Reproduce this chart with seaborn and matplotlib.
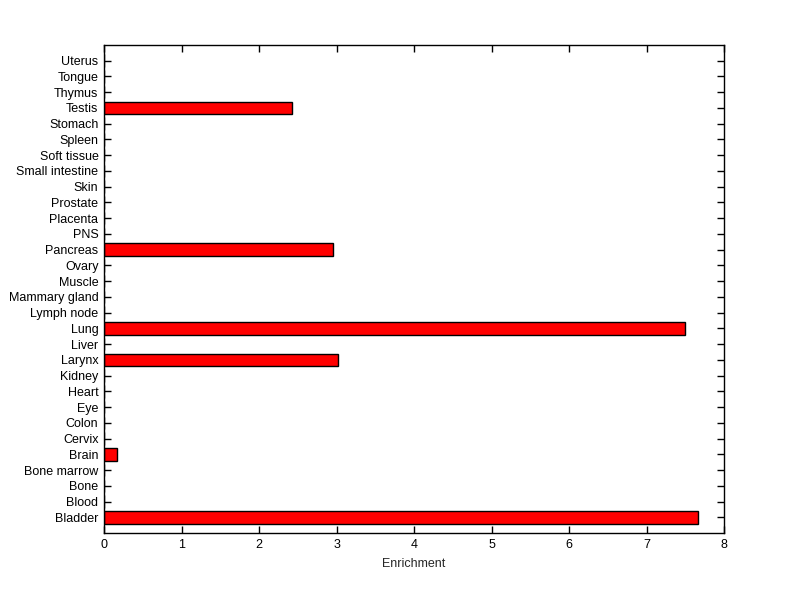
import pandas as pd
import numpy as np
import seaborn as sns
import matplotlib
matplotlib.use('Agg')
import matplotlib.pyplot as plt

# Tissue categories, bottom to top as in the figure
tissues = ['Bladder', 'Blood', 'Bone', 'Bone marrow', 'Brain', 'Cervix', 'Colon',
           'Eye', 'Heart', 'Kidney', 'Larynx', 'Liver', 'Lung', 'Lymph node',
           'Mammary gland', 'Muscle', 'Ovary', 'Pancreas', 'PNS', 'Placenta',
           'Prostate', 'Skin', 'Small intestine', 'Soft tissue', 'Spleen',
           'Stomach', 'Testis', 'Thymus', 'Tongue', 'Uterus']
enrichment = [7.67, 0, 0, 0, 0.17, 0, 0,
              0, 0, 0, 3.02, 0, 7.50, 0,
              0, 0, 0, 2.95, 0, 0,
              0, 0, 0, 0, 0,
              0, 2.43, 0, 0, 0]
xticks = [0, 1, 2, 3, 4, 5, 6, 7, 8]

df = pd.DataFrame({'Tissue': tissues, 'Enrichment': enrichment})

sns.set_style("white")
plt.rcParams['font.family'] = ['Liberation Sans', 'DejaVu Sans']
plt.rcParams['font.size'] = 9

fig = plt.figure(figsize=(8, 5.99), dpi=100)
ax = fig.add_axes([0.13, 0.11, 0.775, 0.815])

# seaborn puts the first category on top, so pass the reversed order
sns.barplot(data=df, x='Enrichment', y='Tissue', order=tissues[::-1],
            color='#ff0000', saturation=1, width=0.8,
            edgecolor='black', linewidth=1, ax=ax)

ax.set_ylim(len(tissues), -1)
ax.set_xlim(0, 8)
ax.set_xticks(xticks)
ax.set_ylabel('')
ax.set_xlabel('Enrichment', fontsize=9, labelpad=5)

for s in ax.spines.values():
    s.set_color('black')
    s.set_linewidth(1)
ax.tick_params(direction='in', length=5, width=1, top=True, right=True,
               left=True, bottom=True, labelsize=9, colors='black', pad=4)

fig.savefig('out.png', dpi=100, facecolor='white')
